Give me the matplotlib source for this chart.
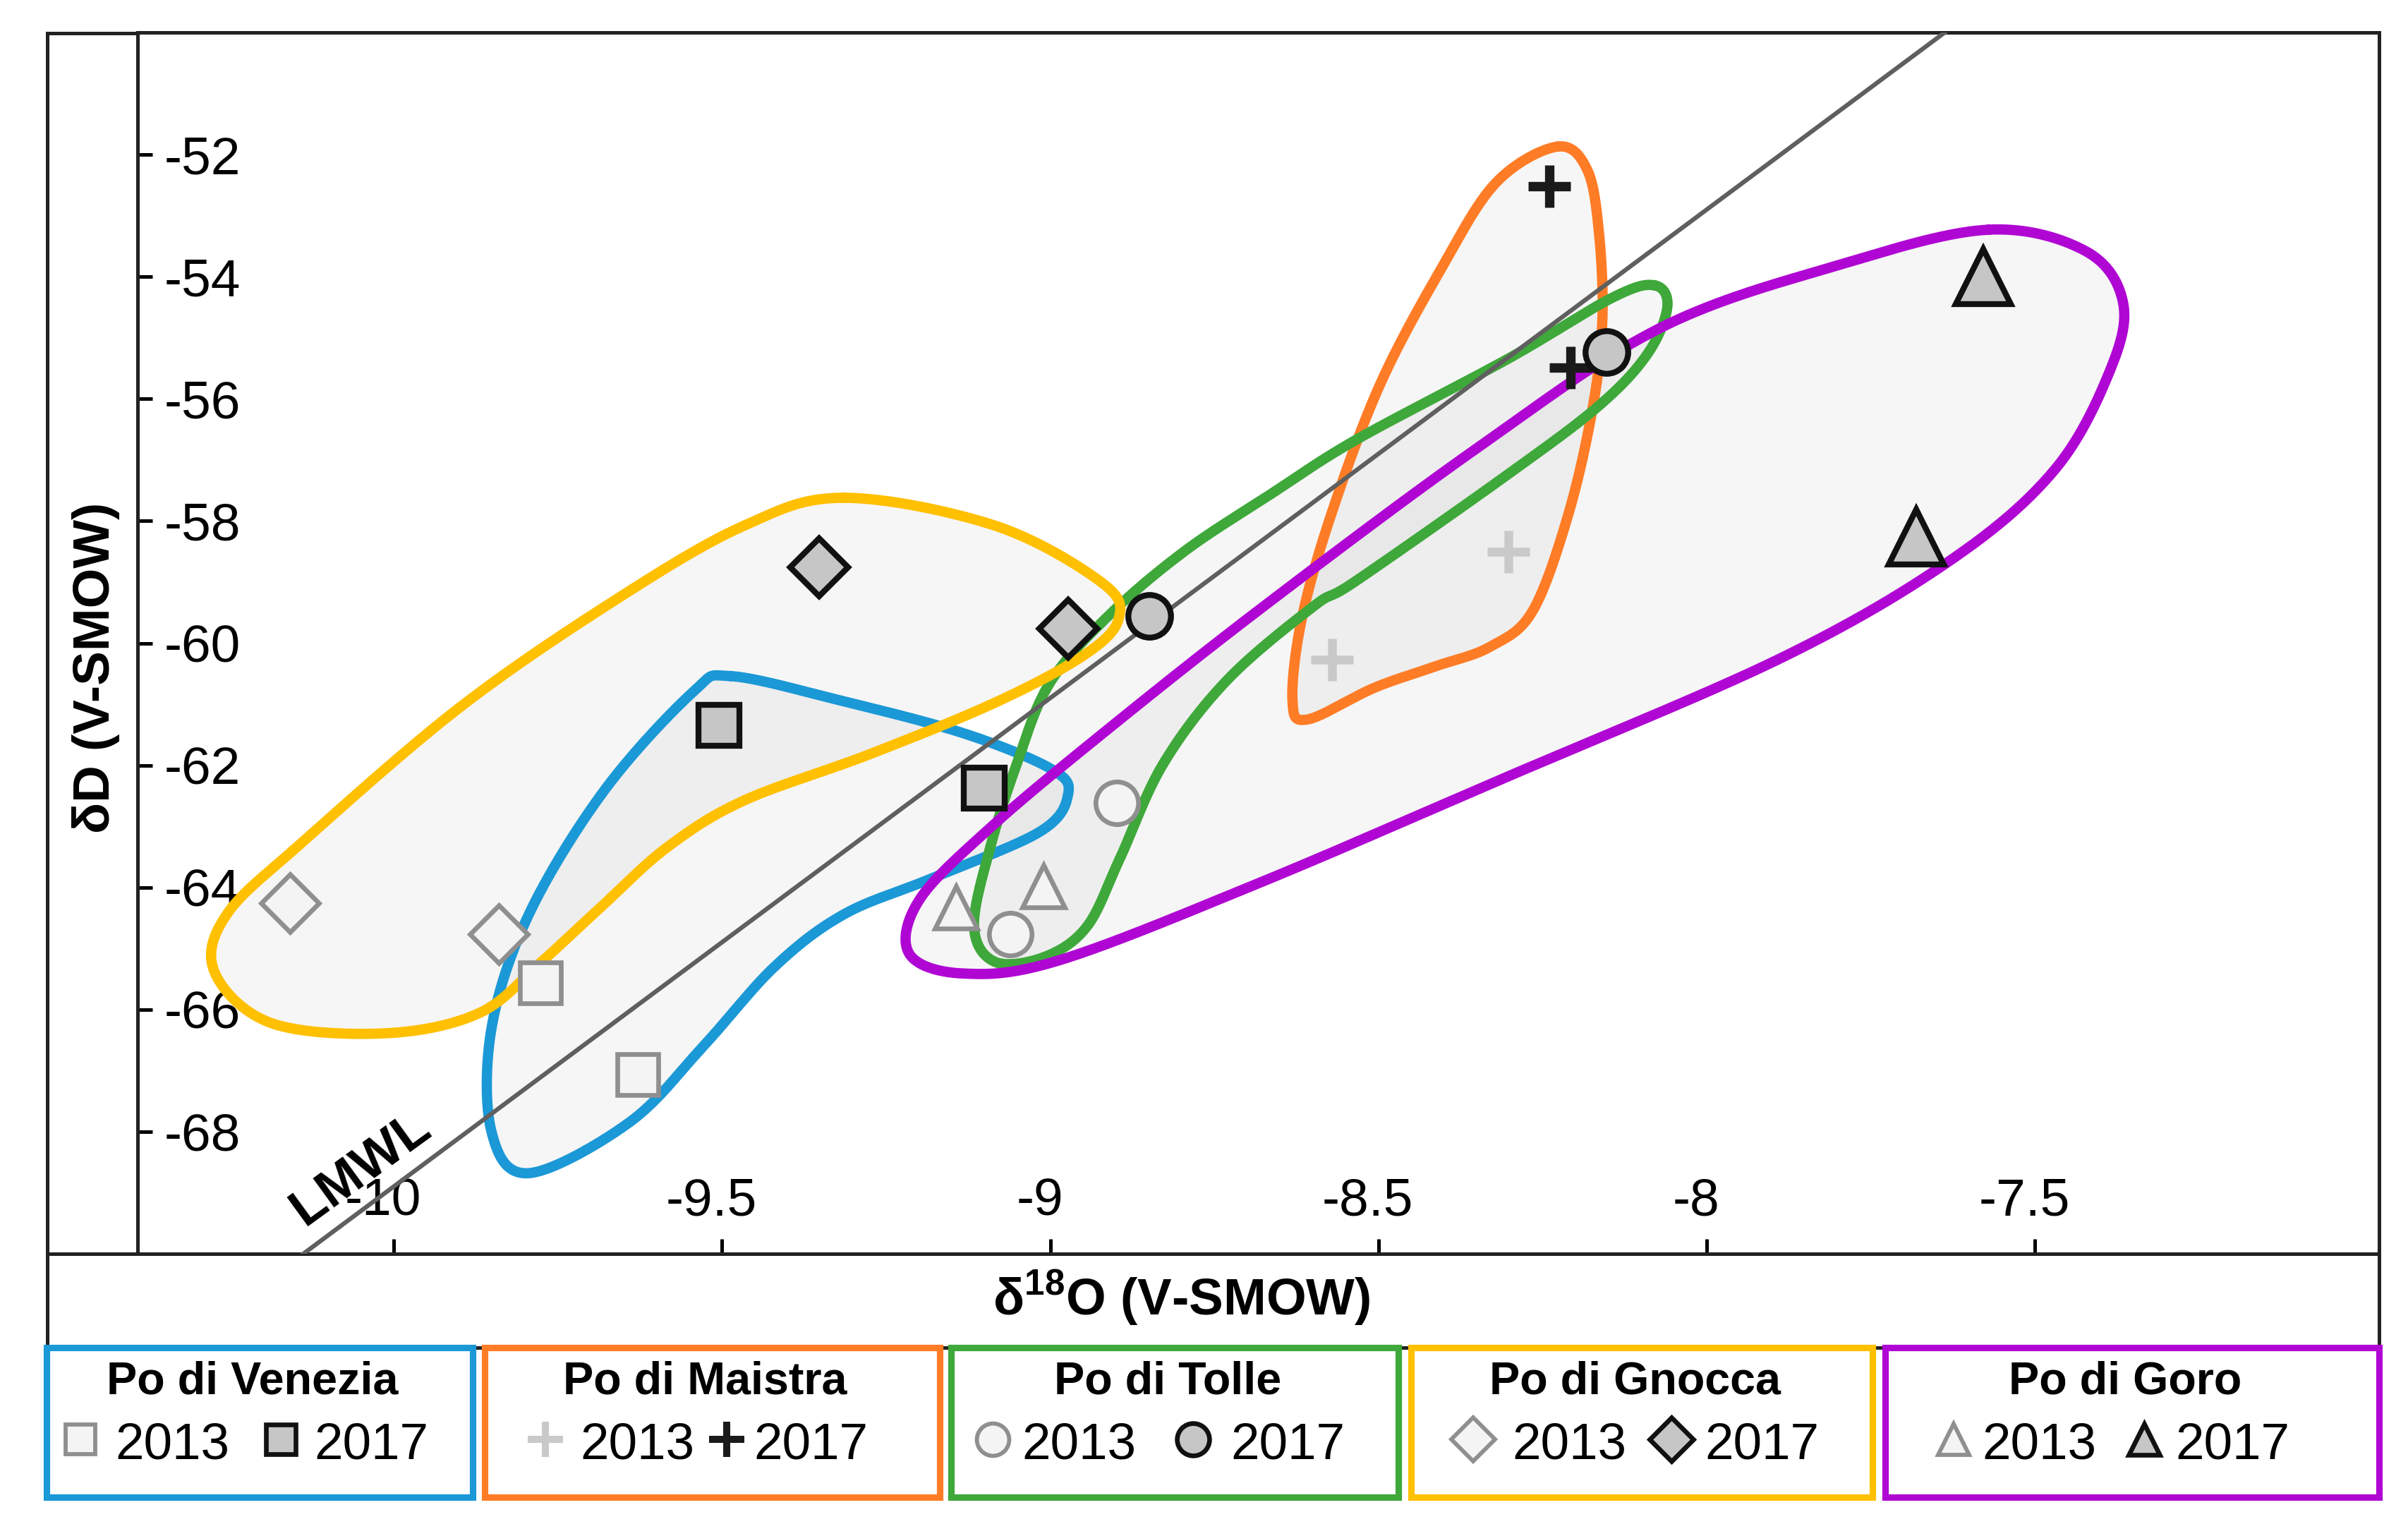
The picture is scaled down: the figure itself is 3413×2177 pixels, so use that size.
import numpy as np
import matplotlib.pyplot as plt
import matplotlib.transforms as mtransforms
from matplotlib.patches import Rectangle

plt.rcParams['font.family'] = ['Liberation Sans', 'DejaVu Sans']
plt.rcParams['mathtext.fontset'] = 'custom'
plt.rcParams['mathtext.rm'] = 'Liberation Sans'
plt.rcParams['mathtext.bf'] = 'Liberation Sans:bold'

# ---- samples (d18O, dD) ----
venezia_2013_x = [-9.776, -9.628]
venezia_2013_y = [-65.56, -67.07]
venezia_2017_x = [-9.504, -9.101]
venezia_2017_y = [-61.35, -62.38]

maistra_2013_x = [-8.302, -8.571]
maistra_2013_y = [-58.50, -60.27]
maistra_2017_x = [-8.240, -8.208]
maistra_2017_y = [-52.52, -55.49]

tolle_2013_x = [-8.898, -9.061]
tolle_2013_y = [-62.62, -64.77]
tolle_2017_x = [-8.849, -8.153]
tolle_2017_y = [-59.56, -55.23]

gnocca_2013_x = [-10.158, -9.840]
gnocca_2013_y = [-64.26, -64.77]
gnocca_2017_x = [-9.352, -8.973]
gnocca_2017_y = [-58.76, -59.76]

goro_2013_x = [-9.143, -9.010]
goro_2013_y = [-64.33, -63.98]
goro_2017_x = [-7.579, -7.681]
goro_2017_y = [-54.00, -58.26]

# ---- hand drawn group outlines (control points, data units) ----
venezia_hull_x = [-9.487, -9.323, -9.131, -8.997, -8.973, -9.016, -9.180, -9.314, -9.419,
                  -9.525, -9.640, -9.794, -9.851, -9.851, -9.794, -9.679, -9.544]
venezia_hull_y = [-60.54, -60.93, -61.48, -62.07, -62.49, -63.09, -63.85, -64.44, -65.29,
                  -66.56, -67.84, -68.68, -68.00, -66.31, -64.44, -62.41, -60.80]

maistra_hull_x = [-8.228, -8.182, -8.164, -8.159, -8.173, -8.210, -8.265, -8.330, -8.413,
                  -8.506, -8.608, -8.631, -8.617, -8.571, -8.497, -8.404, -8.321]
maistra_hull_y = [-51.87, -52.25, -53.30, -54.71, -56.10, -57.86, -59.47, -60.06, -60.38,
                  -60.73, -61.25, -60.94, -59.61, -57.86, -55.75, -53.86, -52.46]

tolle_hull_x = [-8.080, -8.060, -8.090, -8.164, -8.302, -8.534, -8.598, -8.730, -8.828,
                -8.894, -8.944, -9.009, -9.084, -9.116, -9.092, -9.051, -9.001, -8.911,
                -8.796, -8.664, -8.534, -8.302, -8.145]
tolle_hull_y = [-54.14, -54.49, -55.26, -56.11, -57.23, -58.98, -59.39, -60.60, -61.98,
                -63.53, -64.64, -65.14, -65.22, -64.64, -63.37, -61.98, -60.66, -59.55,
                -58.50, -57.56, -56.67, -55.34, -54.35]

gnocca_hull_x = [-9.314, -9.083, -8.920, -8.896, -8.949, -9.083, -9.275, -9.467, -9.583,
                 -9.679, -9.774, -9.870, -10.014, -10.187, -10.273, -10.254, -10.139,
                 -9.899, -9.659, -9.467]
gnocca_hull_y = [-57.62, -58.08, -59.02, -59.61, -60.20, -60.97, -61.82, -62.58, -63.34,
                 -64.27, -65.21, -66.06, -66.39, -66.22, -65.38, -64.44, -63.26,
                 -61.05, -59.27, -58.08]

goro_hull_x = [-7.571, -7.423, -7.366, -7.386, -7.470, -7.627, -7.886, -8.302, -8.680,
               -8.985, -9.133, -9.215, -9.199, -9.092, -8.927, -8.680, -8.349, -8.071, -7.793]
goro_hull_y = [-53.23, -53.58, -54.42, -55.54, -57.16, -58.63, -60.24, -62.18, -63.92,
               -65.19, -65.41, -65.08, -64.20, -63.03, -61.54, -59.44, -56.80, -54.84, -53.79]

# local meteoric water line: dD = a * d18O + b
lmwl_slope = 8.0
lmwl_intercept = 11.1

branch_names = ['Po di Venezia', 'Po di Maistra', 'Po di Tolle', 'Po di Gnocca', 'Po di Goro']
branch_colors = ['#1b98d6', '#ff7c26', '#3ea83a', '#ffc000', '#b006d4']
years = ['2013', '2017']

xticks = [-10, -9.5, -9, -8.5, -8, -7.5]
xtick_labels = ['-10', '-9.5', '-9', '-8.5', '-8', '-7.5']
yticks = [-68, -66, -64, -62, -60, -58, -56, -54, -52]
ytick_labels = ['-68', '-66', '-64', '-62', '-60', '-58', '-56', '-54', '-52']


def closed_spline(xs, ys, n=40):
    p = np.column_stack([xs, ys])
    m = len(p)
    t = np.linspace(0, 1, n, endpoint=False)[:, None]
    segs = []
    for i in range(m):
        p0, p1, p2, p3 = p[i - 1], p[i], p[(i + 1) % m], p[(i + 2) % m]
        segs.append(0.5 * (2 * p1 + (p2 - p0) * t
                           + (2 * p0 - 5 * p1 + 4 * p2 - p3) * t ** 2
                           + (3 * p1 - p0 - 3 * p2 + p3) * t ** 3))
    out = np.vstack(segs + [segs[0][:1]])
    return out[:, 0], out[:, 1]


W, H = 3413, 2177
fig = plt.figure(figsize=(W / 300, H / 300), dpi=300)

# frame + legend layer in pixel units
lax = fig.add_axes([0, 0, 1, 1], zorder=0)
lax.set_xlim(0, W)
lax.set_ylim(H, 0)
lax.axis('off')

ax = fig.add_axes([195 / W, 1 - 1777 / H, (3372 - 195) / W, (1777 - 46) / H], zorder=1)
ax.set_xlim(-10.39, -6.976)
ax.set_ylim(-70, -50)

old_style = dict(ls='none', mfc='#f4f4f4', mec='#8f8f8f', mew=1.6)
new_style = dict(ls='none', mfc='#c6c6c6', mec='#111111', mew=2.0)
plus_old = dict(ls='none', color='#c9c9c9', mew=3.0)
plus_new = dict(ls='none', color='#1a1a1a', mew=3.2)

groups = [
    (venezia_hull_x, venezia_hull_y, venezia_2013_x, venezia_2013_y, venezia_2017_x, venezia_2017_y, 's', 14, 14),
    (maistra_hull_x, maistra_hull_y, maistra_2013_x, maistra_2013_y, maistra_2017_x, maistra_2017_y, '+', 14.5, 14.5),
    (tolle_hull_x, tolle_hull_y, tolle_2013_x, tolle_2013_y, tolle_2017_x, tolle_2017_y, 'o', 14.5, 14.5),
    (gnocca_hull_x, gnocca_hull_y, gnocca_2013_x, gnocca_2013_y, gnocca_2017_x, gnocca_2017_y, 'D', 14, 14),
    (goro_hull_x, goro_hull_y, goro_2013_x, goro_2013_y, goro_2017_x, goro_2017_y, '^', 14.5, 18.5),
]

for (hx, hy, x13, y13, x17, y17, mk, s13, s17), col in zip(groups, branch_colors):
    sx, sy = closed_spline(hx, hy)
    ax.fill(sx, sy, color='#d6d6d6', alpha=0.22, lw=0, zorder=1)
    ax.plot(sx, sy, color=col, lw=3.5, zorder=2, solid_capstyle='round')
    if mk == '+':
        ax.plot(x13, y13, marker=mk, ms=s13, zorder=4, **plus_old)
        ax.plot(x17, y17, marker=mk, ms=s17, zorder=4, **plus_new)
    else:
        ax.plot(x13, y13, marker=mk, ms=s13, zorder=4, **old_style)
        ax.plot(x17, y17, marker=mk, ms=s17, zorder=4, **new_style)

lx = np.array(ax.get_xlim())
ax.plot(lx, lmwl_slope * lx + lmwl_intercept, color='#5f5f5f', lw=1.5, zorder=3)
ax.text(-10.05, -68.6, 'LMWL', rotation=36, ha='center', va='center',
        fontsize=18, fontweight='bold', zorder=5)

ax.set_xticks(xticks)
ax.set_xticklabels(xtick_labels)
ax.set_yticks(yticks)
ax.set_yticklabels(ytick_labels)
ax.tick_params(axis='x', direction='in', length=5, width=1.2, pad=-26, labelsize=18)
ax.tick_params(axis='y', direction='in', length=5, width=1.2, pad=-9, labelsize=18)
shift = mtransforms.ScaledTranslation(-15 / 300, 0, fig.dpi_scale_trans)
for lbl in ax.get_xticklabels():
    lbl.set_transform(lbl.get_transform() + shift)
for lbl in ax.get_yticklabels():
    lbl.set_horizontalalignment('left')
for side in ['left', 'bottom', 'top', 'right']:
    ax.spines[side].set_color('#222222')
    ax.spines[side].set_linewidth(1.2)

# outer frame
lax.add_patch(Rectangle((67, 47), 3372 - 67, 1910 - 47, fill=False, ec='#222222', lw=1.2))
lax.plot([67, 195], [1777, 1777], color='#222222', lw=1.2)

fig.text(136 / W, 1 - 946 / H, 'δD (V-SMOW)', rotation=90, ha='center', va='center',
         fontsize=17.5, fontweight='bold')
fig.text(1675 / W, 1 - 1840 / H, r'δ$^{\mathbf{18}}$O (V-SMOW)', ha='center', va='center',
         fontsize=17.5, fontweight='bold')

# legend boxes
box_left = [66, 687, 1348, 2000, 2672]
box_right = [670, 1332, 1982, 2654, 3372]
item_offsets = [(48, 97, 332, 379), (86, 135, 343, 381), (59, 100, 343, 396),
                (88, 143, 369, 416), (97, 137, 367, 411)]
legend_markers = ['s', '+', 'o', 'D', '^']
legend_sizes = [10, 12, 11, 10.5, 10.5]
for name, col, x0, x1, offs, mk, ms in zip(branch_names, branch_colors, box_left, box_right,
                                           item_offsets, legend_markers, legend_sizes):
    lax.add_patch(Rectangle((x0, 1910), x1 - x0, 2122 - 1910, fill=False, ec=col, lw=2.2))
    lax.text((x0 + x1) / 2 - 10, 1975, name, ha='center', va='baseline',
             fontsize=15.5, fontweight='bold')
    m1, t1, m2, t2 = offs
    if mk == '+':
        lax.plot([x0 + m1], [2040], marker=mk, ms=ms, **dict(plus_old, mew=2.4))
        lax.plot([x0 + m2], [2040], marker=mk, ms=ms, **dict(plus_new, mew=2.4))
    else:
        lax.plot([x0 + m1], [2040], marker=mk, ms=ms, **dict(old_style, mew=1.4))
        lax.plot([x0 + m2], [2040], marker=mk, ms=ms, **dict(new_style, mew=1.6))
    lax.text(x0 + t1, 2067, years[0], ha='left', va='baseline', fontsize=17.5)
    lax.text(x0 + t2, 2067, years[1], ha='left', va='baseline', fontsize=17.5)

fig.savefig('out.png', dpi=300, facecolor='white')
